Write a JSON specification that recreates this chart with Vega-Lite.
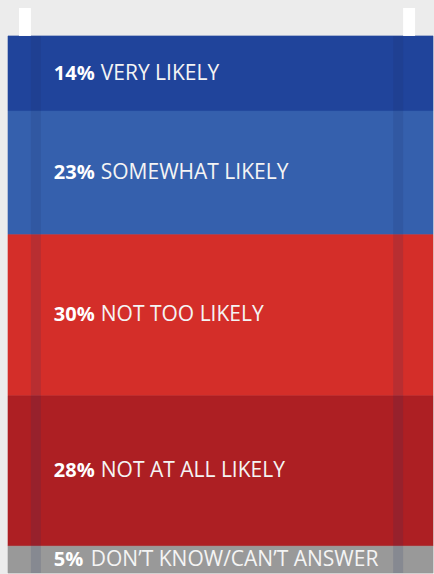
{
  "$schema": "https://vega.github.io/schema/vega-lite/v6.json",
  "width": 434,
  "height": 574,
  "autosize": {"type": "fit", "contains": "padding"},
  "padding": {"left": 7, "top": 0, "right": 0, "bottom": 0},
  "background": "#ececec",
  "config": {"view": {"stroke": null}, "font": "Open Sans"},
  "data": {"values": [
    {"answer": "VERY LIKELY", "pct": 14, "rank": 1},
    {"answer": "SOMEWHAT LIKELY", "pct": 23, "rank": 2},
    {"answer": "NOT TOO LIKELY", "pct": 30, "rank": 3},
    {"answer": "NOT AT ALL LIKELY", "pct": 28, "rank": 4},
    {"answer": "DON’T KNOW/CAN’T ANSWER", "pct": 5, "rank": 5}
  ]},
  "transform": [
    {"stack": "pct", "sort": [{"field": "rank", "order": "ascending"}], "groupby": [], "as": ["y0", "y1"]},
    {"calculate": "(datum.y0 + datum.y1) / 2", "as": "mid"},
    {"calculate": "datum.pct + '%'", "as": "pctLabel"}
  ],
  "layer": [
    {
      "mark": {"type": "rect", "strokeWidth": 0.6},
      "encoding": {
        "y": {"field": "y0", "type": "quantitative", "scale": {"domain": [-6.69, 100], "reverse": true, "nice": false, "zero": false}, "axis": null},
        "y2": {"field": "y1"},
        "x": {"datum": 0, "type": "quantitative", "scale": {"domain": [0, 100], "nice": false, "zero": false}, "axis": null},
        "x2": {"datum": 100},
        "color": {
          "field": "answer", "type": "nominal", "legend": null,
          "scale": {
            "domain": ["VERY LIKELY", "SOMEWHAT LIKELY", "NOT TOO LIKELY", "NOT AT ALL LIKELY", "DON’T KNOW/CAN’T ANSWER"],
            "range": ["#20449b", "#3560ad", "#d42e29", "#ad1f23", "#999999"]
          }
        },
        "stroke": {
          "field": "answer", "type": "nominal", "legend": null,
          "scale": {
            "domain": ["VERY LIKELY", "SOMEWHAT LIKELY", "NOT TOO LIKELY", "NOT AT ALL LIKELY", "DON’T KNOW/CAN’T ANSWER"],
            "range": ["#20449b", "#3560ad", "#d42e29", "#ad1f23", "#999999"]
          }
        }
      }
    },
    {
      "data": {"values": [{}]},
      "mark": {"type": "rect", "color": "#ffffff"},
      "encoding": {
        "x": {"datum": 2.58, "type": "quantitative"},
        "x2": {"datum": 5.39},
        "y": {"datum": -5.2, "type": "quantitative"},
        "y2": {"datum": 0}
      }
    },
    {
      "data": {"values": [{}]},
      "mark": {"type": "rect", "color": "#ffffff"},
      "encoding": {
        "x": {"datum": 92.97, "type": "quantitative"},
        "x2": {"datum": 95.78},
        "y": {"datum": -5.2, "type": "quantitative"},
        "y2": {"datum": 0}
      }
    },
    {
      "data": {"values": [{}]},
      "mark": {"type": "rect", "color": "#1c3068", "opacity": 0.15},
      "encoding": {
        "x": {"datum": 5.39, "type": "quantitative"},
        "x2": {"datum": 7.73},
        "y": {"datum": 0, "type": "quantitative"},
        "y2": {"datum": 100}
      }
    },
    {
      "data": {"values": [{}]},
      "mark": {"type": "rect", "color": "#1c3068", "opacity": 0.15},
      "encoding": {
        "x": {"datum": 90.63, "type": "quantitative"},
        "x2": {"datum": 92.97},
        "y": {"datum": 0, "type": "quantitative"},
        "y2": {"datum": 100}
      }
    },
    {
      "mark": {"type": "text", "align": "left", "baseline": "middle", "fontWeight": "bold", "fontSize": 20, "color": "#ffffff"},
      "encoding": {
        "x": {"datum": 10.77, "type": "quantitative"},
        "y": {"field": "mid", "type": "quantitative"},
        "text": {"field": "pctLabel"}
      }
    },
    {
      "transform": [{"filter": "datum.pct >= 10"}],
      "mark": {"type": "text", "align": "left", "baseline": "middle", "fontSize": 21, "color": "#f4f4f4", "dx": 47},
      "encoding": {
        "x": {"datum": 10.77, "type": "quantitative"},
        "y": {"field": "mid", "type": "quantitative"},
        "text": {"field": "answer"}
      }
    },
    {
      "transform": [{"filter": "datum.pct < 10"}],
      "mark": {"type": "text", "align": "left", "baseline": "middle", "fontSize": 21, "color": "#f4f4f4", "dx": 37},
      "encoding": {
        "x": {"datum": 10.77, "type": "quantitative"},
        "y": {"field": "mid", "type": "quantitative"},
        "text": {"field": "answer"}
      }
    }
  ]
}
